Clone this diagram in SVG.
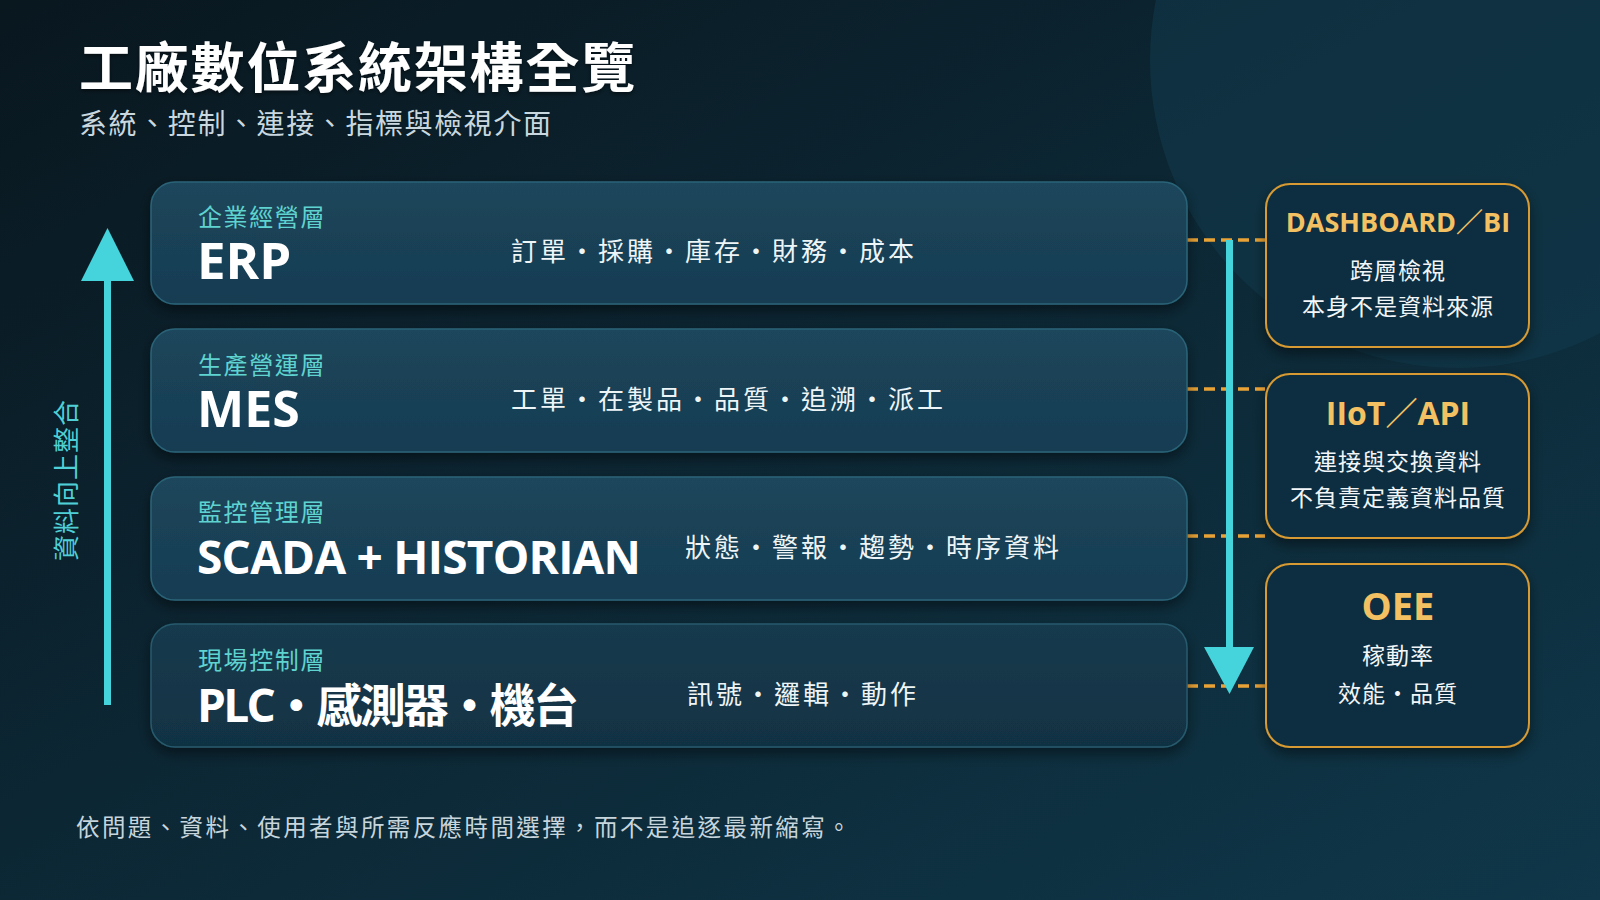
<svg xmlns="http://www.w3.org/2000/svg" width="1600" height="900" viewBox="0 0 1600 900">
  <defs>
    <linearGradient id="bg" x1="0" y1="0" x2="1" y2="1">
      <stop offset="0" stop-color="#09171f"/>
      <stop offset="0.45" stop-color="#0c2633"/>
      <stop offset="1" stop-color="#0f3749"/>
    </linearGradient>
    <linearGradient id="layerFill" x1="0" y1="0" x2="0" y2="1">
      <stop offset="0" stop-color="#1c465c"/>
      <stop offset="1" stop-color="#173c51"/>
    </linearGradient>
    <linearGradient id="layerFillDark" x1="0" y1="0" x2="0" y2="1">
      <stop offset="0" stop-color="#163a4e"/>
      <stop offset="1" stop-color="#113243"/>
    </linearGradient>
    <filter id="shadow" x="-10%" y="-20%" width="120%" height="150%">
      <feDropShadow dx="0" dy="6" stdDeviation="7" flood-color="#000000" flood-opacity="0.45"/>
    </filter>
    <filter id="tshadow" x="-5%" y="-20%" width="110%" height="150%">
      <feDropShadow dx="0" dy="2" stdDeviation="2" flood-color="#000000" flood-opacity="0.5"/>
    </filter>
    <style>
      .cjk { font-family: "Noto Sans CJK TC", "Noto Sans CJK SC", sans-serif; }
      .title { font-size: 54px; font-weight: 700; fill: #ffffff; letter-spacing: 1.8px; }
      .subtitle { font-size: 28px; font-weight: 400; fill: #c9d8df; letter-spacing: 1.6px; }
      .layer { fill: url(#layerFill); stroke: #2b6478; stroke-width: 1.5; }
      .layerDark { fill: url(#layerFillDark); stroke: #275a6d; stroke-width: 1.5; }
      .tier { font-size: 24px; fill: #5fd3cf; font-weight: 400; letter-spacing: 1.6px; }
      .main { font-family: "Open Sans", "Noto Sans CJK TC", sans-serif; font-weight: 700; fill: #ffffff; }
      .desc { font-size: 26px; fill: #eef5f7; letter-spacing: 3px; }
      .side { fill: #0e2f40; stroke: #d89a32; stroke-width: 2; }
      .sideTitle { font-family: "Open Sans", "Noto Sans CJK TC", sans-serif; font-weight: 700; fill: #f3c162; text-anchor: middle; }
      .sideText { font-size: 23px; fill: #f2f6f8; text-anchor: middle; letter-spacing: 1px; }
      .dash { stroke: #e9a236; stroke-width: 3.5; stroke-dasharray: 11 6; fill: none; }
      .flow { stroke: #45d3dc; stroke-width: 7; fill: none; }
      .arrowHead { fill: #45d3dc; }
      .footer { font-size: 23.5px; fill: #c7d5dc; letter-spacing: 2.4px; }
    </style>
  </defs>

  <!-- background -->
  <rect x="0" y="0" width="1600" height="900" fill="url(#bg)"/>
  <circle cx="1458" cy="60" r="308" fill="#123a4d" fill-opacity="0.55"/>

  <!-- heading -->
  <g id="heading">
    <text class="cjk title" x="79" y="88" filter="url(#tshadow)">工廠數位系統架構全覽</text>
    <text class="cjk subtitle" x="79" y="134">系統、控制、連接、指標與檢視介面</text>
  </g>

  <!-- connectors -->
  <g id="connectors">
    <line class="dash" x1="1187" y1="240" x2="1265" y2="240"/>
    <line class="dash" x1="1187" y1="389" x2="1265" y2="389"/>
    <line class="dash" x1="1187" y1="536" x2="1265" y2="536"/>
    <line class="dash" x1="1187" y1="686" x2="1265" y2="686"/>
    <!-- data integrates upward -->
    <line class="flow" x1="107.5" y1="705" x2="107.5" y2="278"/>
    <polygon class="arrowHead" points="107.5,228 134,281 81,281"/>
    <!-- downward -->
    <line class="flow" x1="1229.5" y1="240" x2="1229.5" y2="650"/>
    <polygon class="arrowHead" points="1204,647 1254,647 1229.5,694"/>
  </g>
  <g id="flow-label">
    <text class="cjk" x="0" y="0" transform="translate(76,480) rotate(-90)" text-anchor="middle" font-size="26" fill="#4fd0d6" letter-spacing="1">資料向上整合</text>
  </g>

  <!-- layers -->
  <g id="layer-erp" filter="url(#shadow)">
    <rect class="layer" x="151" y="182" width="1036" height="122" rx="24"/>
  </g>
  <g id="layer-erp-text">
    <text class="cjk tier" x="198" y="226">企業經營層</text>
    <text class="main" x="197" y="279" font-size="51">ERP</text>
    <text class="cjk desc" x="511" y="261">訂單・採購・庫存・財務・成本</text>
  </g>

  <g id="layer-mes" filter="url(#shadow)">
    <rect class="layer" x="151" y="329" width="1036" height="123" rx="24"/>
  </g>
  <g id="layer-mes-text">
    <text class="cjk tier" x="198" y="374">生產營運層</text>
    <text class="main" x="197" y="427" font-size="50">MES</text>
    <text class="cjk desc" x="511" y="409">工單・在製品・品質・追溯・派工</text>
  </g>

  <g id="layer-scada" filter="url(#shadow)">
    <rect class="layer" x="151" y="477" width="1036" height="123" rx="24"/>
  </g>
  <g id="layer-scada-text">
    <text class="cjk tier" x="198" y="521">監控管理層</text>
    <text class="main" x="197" y="574" font-size="46" textLength="444" lengthAdjust="spacing">SCADA + HISTORIAN</text>
    <text class="cjk desc" x="685" y="557">狀態・警報・趨勢・時序資料</text>
  </g>

  <g id="layer-plc" filter="url(#shadow)">
    <rect class="layerDark" x="151" y="624" width="1036" height="123" rx="24"/>
  </g>
  <g id="layer-plc-text">
    <text class="cjk tier" x="198" y="669">現場控制層</text>
    <text class="main" x="197" y="722" font-size="46" textLength="382" lengthAdjust="spacing">PLC・感測器・機台</text>
    <text class="cjk desc" x="687" y="704">訊號・邏輯・動作</text>
  </g>

  <!-- side boxes -->
  <g id="box-dashboard">
    <rect class="side" x="1266" y="184" width="263" height="163" rx="24" filter="url(#shadow)"/>
    <text class="sideTitle" x="1398" y="232" font-size="27">DASHBOARD／BI</text>
    <text class="cjk sideText" x="1398" y="279">跨層檢視</text>
    <text class="cjk sideText" x="1398" y="315">本身不是資料來源</text>
  </g>
  <g id="box-iiot">
    <rect class="side" x="1266" y="374" width="263" height="164" rx="24" filter="url(#shadow)"/>
    <text class="sideTitle" x="1398" y="425" font-size="32">IIoT／API</text>
    <text class="cjk sideText" x="1398" y="470">連接與交換資料</text>
    <text class="cjk sideText" x="1398" y="506">不負責定義資料品質</text>
  </g>
  <g id="box-oee">
    <rect class="side" x="1266" y="564" width="263" height="183" rx="24" filter="url(#shadow)"/>
    <text class="sideTitle" x="1398" y="620" font-size="38">OEE</text>
    <text class="cjk sideText" x="1398" y="664">稼動率</text>
    <text class="cjk sideText" x="1398" y="702">效能・品質</text>
  </g>

  <!-- footer -->
  <g id="footer">
    <text class="cjk footer" x="76" y="836">依問題、資料、使用者與所需反應時間選擇，而不是追逐最新縮寫。</text>
  </g>
</svg>
